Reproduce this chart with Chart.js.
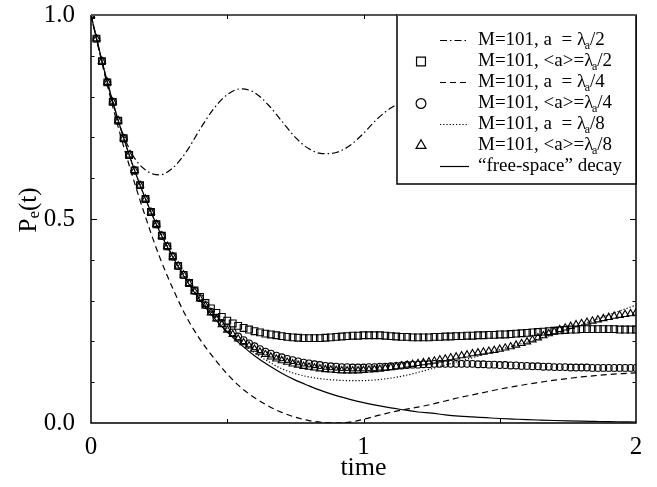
<!DOCTYPE html>
<html>
<head>
<meta charset="utf-8">
<script src="https://cdn.jsdelivr.net/npm/chart.js@4.4.1/dist/chart.umd.min.js"></script>
<style>
html,body{margin:0;padding:0;background:#fff;}
canvas{display:block;}
</style>
</head>
<body>
<canvas id="c" width="657" height="487"></canvas>
<script>
// ---- data ----
const tLine = [0,0.05,0.1,0.15,0.2,0.25,0.3,0.35,0.4,0.45,0.5,0.55,0.6,0.65,0.7,0.75,0.8,0.85,0.9,0.95,1,1.05,1.1,1.15,1.2,1.25,1.3,1.35,1.4,1.45,1.5,1.55,1.6,1.65,1.7,1.75,1.8,1.85,1.9,1.95,2];
const tMark = [0,0.02,0.04,0.06,0.08,0.1,0.12,0.14,0.16,0.18,0.2,0.22,0.24,0.26,0.28,0.3,0.32,0.34,0.36,0.38,0.4,0.42,0.44,0.46,0.48,0.5,0.52,0.54,0.56,0.58,0.6,0.62,0.64,0.66,0.68,0.7,0.72,0.74,0.76,0.78,0.8,0.82,0.84,0.86,0.88,0.9,0.92,0.94,0.96,0.98,1,1.02,1.04,1.06,1.08,1.1,1.12,1.14,1.16,1.18,1.2,1.22,1.24,1.26,1.28,1.3,1.32,1.34,1.36,1.38,1.4,1.42,1.44,1.46,1.48,1.5,1.52,1.54,1.56,1.58,1.6,1.62,1.64,1.66,1.68,1.7,1.72,1.74,1.76,1.78,1.8,1.82,1.84,1.86,1.88,1.9,1.92,1.94,1.96,1.98,2];

const lineHalf = [1.0,0.86,0.74,0.66,0.62,0.608,0.625,0.665,0.72,0.77,0.805,0.819,0.81,0.78,0.74,0.70,0.672,0.66,0.663,0.68,0.71,0.745,0.772,0.79,0.80,0.80,0.79,0.775,0.76,0.745,0.735,0.73,0.732,0.74,0.75,0.76,0.77,0.775,0.775,0.77,0.765];
const lineQuarter = [1.0,0.855,0.725,0.61,0.505,0.41,0.33,0.26,0.205,0.16,0.12,0.087,0.062,0.042,0.026,0.014,0.006,0.0015,0,0.002,0.009,0.018,0.026,0.033,0.039,0.046,0.054,0.062,0.069,0.076,0.083,0.089,0.095,0.100,0.105,0.109,0.113,0.116,0.119,0.121,0.123];
const lineEighth = [1.0,0.861,0.741,0.638,0.55,0.474,0.41,0.354,0.306,0.265,0.23,0.198,0.172,0.151,0.133,0.121,0.113,0.108,0.105,0.104,0.104,0.106,0.110,0.116,0.124,0.133,0.142,0.151,0.160,0.170,0.180,0.189,0.198,0.208,0.218,0.229,0.241,0.253,0.265,0.277,0.289];
const freeSpace = [1.000,0.861,0.741,0.638,0.549,0.472,0.407,0.350,0.301,0.259,0.223,0.192,0.165,0.142,0.122,0.105,0.091,0.078,0.067,0.058,0.050,0.043,0.037,0.032,0.027,0.024,0.020,0.017,0.015,0.013,0.011,0.0096,0.0082,0.0071,0.0061,0.0052,0.0045,0.0039,0.0033,0.0029,0.0025];

const avgHalf = [1.000,0.942,0.887,0.835,0.787,0.741,0.698,0.657,0.619,0.583,0.549,0.517,0.487,0.459,0.433,0.408,0.385,0.363,
0.343,0.325,0.309,0.294,0.281,0.270,0.260,0.251,0.244,0.238,
0.233,0.229,0.225,0.222,0.219,0.217,0.215,0.213,0.211,0.210,
0.209,0.208,0.208,0.208,0.208,0.209,0.210,0.211,0.212,0.213,
0.214,0.214,0.215,0.215,0.215,0.215,0.214,0.213,0.212,0.211,
0.211,0.210,0.210,0.210,0.210,0.211,0.211,0.212,0.212,0.213,
0.213,0.214,0.214,0.215,0.215,0.216,0.216,0.217,0.217,0.218,
0.219,0.220,0.221,0.222,0.223,0.224,0.225,0.226,0.227,0.228,
0.229,0.229,0.230,0.230,0.230,0.230,0.230,0.230,0.230,0.229,
0.229,0.229,0.229];
const avgQuarter = [1.000,0.942,0.887,0.835,0.787,0.741,0.698,0.657,0.619,0.583,0.549,0.517,0.487,0.459,0.433,0.408,0.385,0.363,
0.343,0.324,0.306,0.289,0.273,0.258,0.245,0.233,0.222,0.212,
0.203,0.195,0.188,0.181,0.175,0.170,0.165,0.161,0.157,0.154,
0.151,0.148,0.146,0.144,0.142,0.140,0.139,0.138,0.137,0.137,
0.136,0.136,0.136,0.137,0.137,0.138,0.138,0.139,0.140,0.141,
0.142,0.143,0.143,0.144,0.144,0.145,0.145,0.145,0.145,0.145,
0.145,0.145,0.145,0.144,0.144,0.143,0.143,0.142,0.142,0.141,
0.141,0.140,0.140,0.139,0.139,0.138,0.138,0.137,0.137,0.137,
0.136,0.136,0.136,0.136,0.135,0.135,0.135,0.135,0.135,0.135,
0.135,0.135,0.135];
const avgEighth = [1.000,0.942,0.887,0.835,0.787,0.741,0.698,0.657,0.619,0.583,0.549,0.517,0.487,0.459,0.433,0.408,0.385,0.363,
0.342,0.322,0.304,0.287,0.270,0.255,0.241,0.228,0.217,0.206,
0.197,0.189,0.181,0.174,0.168,0.162,0.157,0.153,0.149,0.145,
0.142,0.139,0.137,0.135,0.133,0.131,0.130,0.129,0.128,0.128,
0.128,0.128,0.129,0.130,0.131,0.132,0.134,0.136,0.138,0.140,
0.142,0.144,0.146,0.148,0.150,0.152,0.155,0.157,0.160,0.162,
0.165,0.167,0.170,0.172,0.174,0.176,0.178,0.181,0.184,0.187,
0.191,0.195,0.199,0.204,0.209,0.214,0.219,0.224,0.229,0.233,
0.237,0.241,0.244,0.247,0.250,0.253,0.256,0.259,0.262,0.264,
0.266,0.268,0.270];

const yTickMarks = [0.1,0.2,0.3,0.4,0.5,0.6,0.7,0.8,0.9];
const xTickMarks = [0.5,1,1.5];
const legendRows = [
  {pre:'M=101, a  = \u03bb', sub:'a', post:'/2'},
  {pre:'M=101, <a>=\u03bb', sub:'a', post:'/2'},
  {pre:'M=101, a  = \u03bb', sub:'a', post:'/4'},
  {pre:'M=101, <a>=\u03bb', sub:'a', post:'/4'},
  {pre:'M=101, a  = \u03bb', sub:'a', post:'/8'},
  {pre:'M=101, <a>=\u03bb', sub:'a', post:'/8'},
  {pre:'\u201cfree-space\u201d decay', sub:'', post:''}
];

const pts = (t, v) => t.map((x, i) => ({x, y: v[i]}));
const SERIF = '"Liberation Serif", "DejaVu Serif", serif';
Chart.defaults.font.family = SERIF;

const lineDs = (v, dash) => ({type:'line', data: pts(tLine, v), borderColor:'#000', borderWidth:1.2,
  borderDash: dash, pointRadius:0, fill:false, cubicInterpolationMode:'monotone'});
const markDs = (v, style, r) => ({type:'line', data: pts(tMark, v), showLine:false, pointStyle: style,
  pointRadius: r, pointBorderColor:'#000', pointBackgroundColor:'rgba(0,0,0,0)', pointBorderWidth:1.1, borderColor:'#000'});

const datasets = [
  lineDs(lineHalf, [7,3,1.5,3]),
  markDs(avgHalf, 'rect', 4.8),
  lineDs(lineQuarter, [6,4]),
  markDs(avgQuarter, 'circle', 3.4),
  lineDs(lineEighth, [1.2,2]),
  markDs(avgEighth, 'triangle', 4.2),
  lineDs(freeSpace, [])
];

const framePlugin = {
  id:'frame',
  afterDatasetsDraw(chart){
    const {ctx, chartArea:a, scales:{x, y}} = chart;
    ctx.save();
    ctx.strokeStyle = '#000'; ctx.lineWidth = 1.5;
    ctx.beginPath();
    ctx.moveTo(a.left, a.top); ctx.lineTo(a.left, a.bottom); ctx.lineTo(a.right, a.bottom); ctx.lineTo(a.right, a.top);
    ctx.stroke();
    ctx.strokeStyle = '#555'; ctx.lineWidth = 2;
    ctx.beginPath(); ctx.moveTo(a.left, a.top); ctx.lineTo(a.right, a.top); ctx.stroke();
    ctx.strokeStyle = '#000'; ctx.lineWidth = 1;
    ctx.beginPath();
    yTickMarks.forEach(v => {
      const py = Math.round(y.getPixelForValue(v)) + 0.5;
      const len = (v === 0.5) ? 6 : 3.5;
      ctx.moveTo(a.left, py); ctx.lineTo(a.left + len, py);
      ctx.moveTo(a.right, py); ctx.lineTo(a.right - len, py);
    });
    xTickMarks.forEach(v => {
      const px = Math.round(x.getPixelForValue(v)) + 0.5;
      ctx.moveTo(px, a.bottom); ctx.lineTo(px, a.bottom - 4);
      ctx.moveTo(px, a.top); ctx.lineTo(px, a.top + 4);
    });
    ctx.stroke();
    ctx.restore();
  }
};

const legendPlugin = {
  id:'boxLegend',
  afterDatasetsDraw(chart){
    const {ctx, chartArea:a} = chart;
    const L = 397, T = a.top, R = a.right, B = 184;
    ctx.save();
    ctx.fillStyle = '#fff';
    ctx.fillRect(L, T, R - L, B - T);
    ctx.strokeStyle = '#000'; ctx.lineWidth = 1.5;
    ctx.strokeRect(L, T, R - L, B - T);
    ctx.strokeStyle = '#555'; ctx.lineWidth = 2;
    ctx.beginPath(); ctx.moveTo(L, T); ctx.lineTo(R, T); ctx.stroke();
    legendRows.forEach((row, i) => {
      const cy = 40.5 + i * 21;
      const ds = datasets[i];
      if (ds.showLine === false) {
        ctx.fillStyle = '#fff';
        ctx.strokeStyle = '#000'; ctx.lineWidth = 1.2;
        Chart.helpers.drawPoint(ctx, {pointStyle: ds.pointStyle, radius: ds.pointRadius + 1.5, borderWidth: 1.2},
          421, cy);
      } else {
        ctx.strokeStyle = '#000'; ctx.lineWidth = 1.2;
        ctx.setLineDash(ds.borderDash);
        ctx.beginPath(); ctx.moveTo(440, cy); ctx.lineTo(469, cy); ctx.stroke();
        ctx.setLineDash([]);
      }
      ctx.fillStyle = '#000';
      ctx.textBaseline = 'middle';
      ctx.textAlign = 'left';
      ctx.font = '19px ' + SERIF;
      let xx = 478;
      ctx.fillText(row.pre, xx, cy);
      xx += ctx.measureText(row.pre).width;
      if (row.sub) {
        ctx.font = '12px ' + SERIF;
        ctx.fillText(row.sub, xx - 1.5, cy + 5);
        xx += ctx.measureText(row.sub).width - 1.5;
        ctx.font = '19px ' + SERIF;
        ctx.fillText(row.post, xx, cy);
      }
    });
    ctx.restore();
  }
};

const titlePlugin = {
  id:'titles',
  afterDraw(chart){
    const {ctx, chartArea:a} = chart;
    ctx.save();
    ctx.fillStyle = '#000';
    ctx.textBaseline = 'middle';
    ctx.textAlign = 'center';
    ctx.font = '26px ' + SERIF;
    ctx.fillText('time', (a.left + a.right) / 2, 468);
    // y title P_e(t)
    ctx.translate(29, 210);
    ctx.rotate(-Math.PI / 2);
    ctx.textAlign = 'left';
    ctx.font = '25px ' + SERIF;
    const wP = ctx.measureText('P').width;
    ctx.font = '17px ' + SERIF;
    const wE = ctx.measureText('e').width;
    ctx.font = '25px ' + SERIF;
    const wT = ctx.measureText('(t)').width;
    let x0 = -(wP + wE + wT) / 2;
    ctx.fillText('P', x0, 0);
    ctx.font = '17px ' + SERIF;
    ctx.fillText('e', x0 + wP, 6);
    ctx.font = '25px ' + SERIF;
    ctx.fillText('(t)', x0 + wP + wE, 0);
    ctx.restore();
  }
};

new Chart(document.getElementById('c'), {
  type:'line',
  data:{datasets},
  options:{
    responsive:false,
    animation:false,
    devicePixelRatio:1,
    layout:{padding:{top:15, right:21, left:0, bottom:0}},
    plugins:{legend:{display:false}, tooltip:{enabled:false}},
    scales:{
      x:{type:'linear', min:0, max:2,
        grid:{display:false}, border:{display:false},
        ticks:{stepSize:1, color:'#000', font:{size:25}, padding:1, maxRotation:0,
          callback:v => String(v)},
        afterFit(s){ s.height = 64; s.paddingLeft = 0; s.paddingRight = 0; }
      },
      y:{type:'linear', min:0, max:1,
        grid:{display:false}, border:{display:false},
        ticks:{stepSize:0.5, color:'#000', font:{size:25}, padding:8,
          callback:v => v.toFixed(1)},
        afterFit(s){ s.width = 91; s.paddingTop = 0; s.paddingBottom = 0; }
      }
    }
  },
  plugins:[framePlugin, legendPlugin, titlePlugin]
});
</script>
</body>
</html>
